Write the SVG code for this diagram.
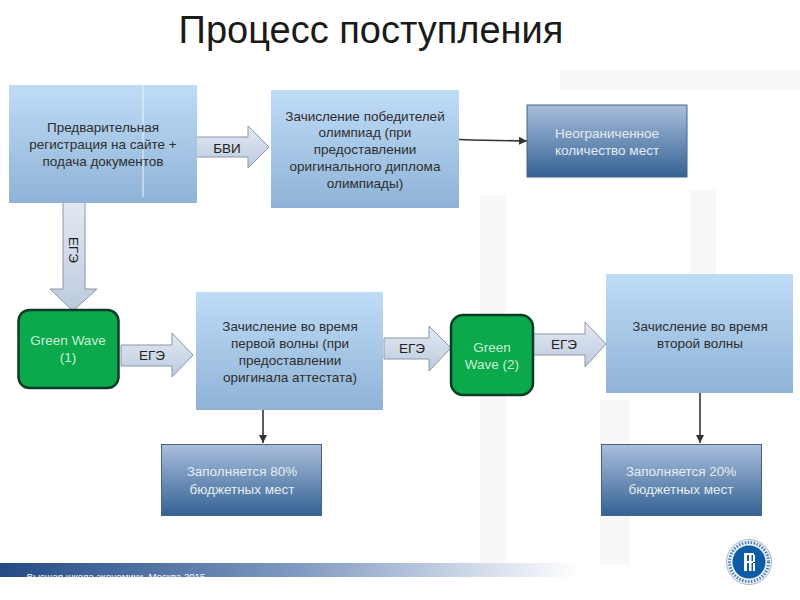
<svg xmlns="http://www.w3.org/2000/svg" width="800" height="600" viewBox="0 0 800 600">
<style>
text{font-family:"Liberation Sans",Arial,sans-serif;text-anchor:middle}
.t{font-size:13.5px;fill:#2e2e2e}
.w{font-size:13.5px;fill:#e4ecf3}
.g{font-size:13.5px;fill:#c9f0d6}
.a{fill:url(#arrowFill);stroke:#8a97a8;stroke-width:1}
.l{font-size:13.5px;fill:#222}
.c{stroke:#333;stroke-width:1.6;fill:none;marker-end:url(#tip)}
.lb{fill:url(#lightBox)}
.db{fill:url(#darkBox);stroke:#44638a;stroke-width:1}
.gr{fill:#0ba84c;stroke:#0b3d26;stroke-width:2.5}
</style>
<defs>
<linearGradient id="lightBox" x1="0" y1="0" x2="0" y2="1"><stop offset="0" stop-color="#bfdcf7"/><stop offset="1" stop-color="#8fb2d6"/></linearGradient>
<linearGradient id="darkBox" x1="0" y1="0" x2="0" y2="1"><stop offset="0" stop-color="#a9bedb"/><stop offset="1" stop-color="#356294"/></linearGradient>
<linearGradient id="arrowFill" x1="0" y1="0" x2="0" y2="1"><stop offset="0" stop-color="#e4e9f2"/><stop offset="1" stop-color="#bccadf"/></linearGradient>
<linearGradient id="band" x1="0" y1="0" x2="1" y2="0"><stop offset="0" stop-color="#234a86"/><stop offset="0.5" stop-color="#7d97bf"/><stop offset="1" stop-color="#ffffff"/></linearGradient>
<marker id="tip" markerWidth="6" markerHeight="6" refX="5" refY="3" orient="auto"><path d="M0,0.5 L5,3 L0,5.5 Z" fill="#333"/></marker>
</defs>
<rect width="800" height="600" fill="#fff"/>
<g id="watermark" fill="#f8f8f8">
<rect x="480" y="195" width="26" height="370"/>
<rect x="560" y="70" width="240" height="20"/>
<rect x="600" y="400" width="30" height="165"/>
<rect x="690" y="190" width="26" height="85"/>
</g>
<text x="371" y="43" font-size="38" fill="#1a1a1a" id="title">Процесс поступления</text>
<g id="footer">
<rect x="0" y="563" width="580" height="14" fill="url(#band)"/>
<text x="116" y="580" font-size="9.6" fill="#fff">Высшая школа экономики, Москва 2015</text>
</g>
<g id="logo">
<circle cx="749" cy="562" r="22.5" fill="#eef3f8" stroke="#9db8d2" stroke-width="1"/>
<circle cx="749" cy="562" r="19.5" fill="none" stroke="#4d7fb3" stroke-width="3" stroke-dasharray="1.5 1.5"/>
<circle cx="749" cy="562" r="16.5" fill="#0f5ca6"/>
<g fill="#fff"><rect x="744" y="553" width="3" height="18"/><rect x="749" y="553" width="2.5" height="18"/><rect x="744" y="553" width="10" height="2"/><rect x="744" y="561" width="9" height="2"/><rect x="753" y="555" width="2" height="7"/><rect x="753" y="563" width="2" height="8"/></g>
</g>
<g id="connectors">
<polygon id="arrow-bvi" class="a" points="196,137 248,137 248,126 269,147 248,168 248,157 196,157"/>
<polygon id="arrow-ege-down" class="a" points="63,200 85,200 85,289 97,289 73,311 50,289 63,289"/>
<polygon id="arrow-ege-1" class="a" points="121,345 172,345 172,333 193,355 172,377 172,366 121,366"/>
<polygon id="arrow-ege-2" class="a" points="384,338 429,338 429,326 451,348 429,371 429,359 384,359"/>
<polygon id="arrow-ege-3" class="a" points="533,334 585,334 585,322 606,344 585,367 585,355 533,355"/>
<path class="c" d="M459,139.500 L472,140 L527,141"/>
<path class="c" d="M263,410 V443"/>
<path class="c" d="M700,393 V443"/>
<text class="l" x="227" y="153">БВИ</text>
<text class="l" transform="translate(69,250) rotate(90)">ЕГЭ</text>
<text class="l" x="152" y="360">ЕГЭ</text>
<text class="l" x="412" y="353">ЕГЭ</text>
<text class="l" x="564" y="349">ЕГЭ</text>
</g>
<g id="node-registration">
<rect class="lb" x="9" y="85" width="188" height="118"/>
<line x1="143" y1="85" x2="143" y2="197" stroke="#eaf4fc" stroke-width="1"/>
<text class="t" x="103" y="132">Предварительная</text>
<text class="t" x="103" y="149">регистрация на сайте +</text>
<text class="t" x="103" y="166">подача документов</text>
</g>
<g id="node-olympiad">
<rect class="lb" x="271" y="90" width="188" height="118"/>
<text class="t" x="365" y="121">Зачисление победителей</text>
<text class="t" x="365" y="137">олимпиад (при</text>
<text class="t" x="365" y="154">предоставлении</text>
<text class="t" x="365" y="171">оригинального диплома</text>
<text class="t" x="365" y="188">олимпиады)</text>
</g>
<g id="node-unlimited">
<rect class="db" x="527" y="105" width="160" height="72"/>
<text class="w" x="607" y="138">Неограниченное</text>
<text class="w" x="607" y="155">количество мест</text>
</g>
<g id="node-green1">
<rect class="gr" x="18.500" y="310" width="100" height="78" rx="11"/>
<text class="g" x="68" y="345">Green Wave</text>
<text class="g" x="68" y="362">(1)</text>
</g>
<g id="node-wave1">
<rect class="lb" x="196" y="292" width="187" height="118"/>
<text class="t" x="290" y="331">Зачисление во время</text>
<text class="t" x="290" y="348">первой волны (при</text>
<text class="t" x="290" y="365">предоставлении</text>
<text class="t" x="290" y="382">оригинала аттестата)</text>
</g>
<g id="node-green2">
<rect class="gr" x="451" y="315" width="82" height="80" rx="12"/>
<text class="g" x="492" y="352">Green</text>
<text class="g" x="492" y="369">Wave (2)</text>
</g>
<g id="node-wave2">
<rect class="lb" x="606" y="274" width="187" height="119"/>
<text class="t" x="700" y="331">Зачисление во время</text>
<text class="t" x="700" y="348">второй волны</text>
</g>
<g id="node-fill80">
<rect class="db" x="161.500" y="444.500" width="160" height="71"/>
<text class="w" x="242" y="476">Заполняется 80%</text>
<text class="w" x="242" y="494">бюджетных мест</text>
</g>
<g id="node-fill20">
<rect class="db" x="601.500" y="444.500" width="160" height="71"/>
<text class="w" x="681" y="476">Заполняется 20%</text>
<text class="w" x="681" y="494">бюджетных мест</text>
</g>
</svg>
